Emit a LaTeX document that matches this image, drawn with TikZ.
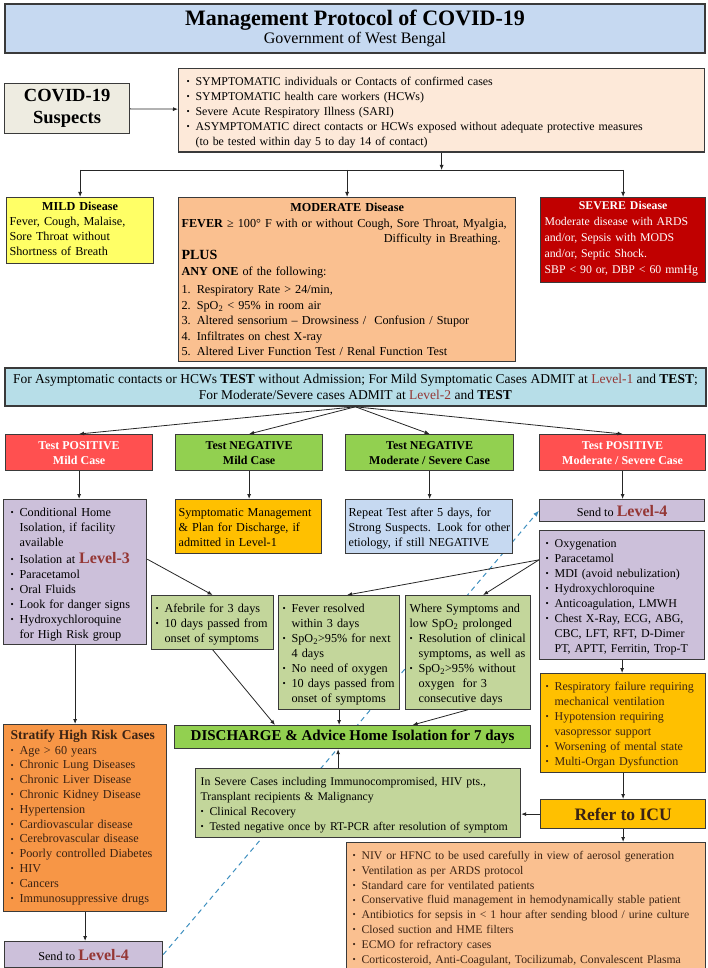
\documentclass[tikz,border=0pt]{standalone}
\usepackage{fontspec}
\setmainfont{Liberation Serif}
\usetikzlibrary{arrows.meta,positioning,calc,backgrounds}
\setlength{\parindent}{0pt}
\definecolor{wbTitle}{HTML}{C6D9F1}
\definecolor{wbSand}{HTML}{EEECE1}
\definecolor{wbPeach}{HTML}{FDE9D9}
\definecolor{wbYellow}{HTML}{FFFF66}
\definecolor{wbApricot}{HTML}{FAC090}
\definecolor{wbCrimson}{HTML}{C00000}
\definecolor{wbCyan}{HTML}{B7DEE8}
\definecolor{wbRed}{HTML}{FF5050}
\definecolor{wbGreen}{HTML}{92D050}
\definecolor{wbLilac}{HTML}{CCC0DA}
\definecolor{wbGold}{HTML}{FFC000}
\definecolor{wbSky}{HTML}{C6D9F1}
\definecolor{wbSage}{HTML}{C3D69B}
\definecolor{wbOrange}{HTML}{F79646}
\definecolor{wbMaroon}{HTML}{953735}
\definecolor{wbTeal}{HTML}{3E8FBF}
\definecolor{wbInk}{HTML}{3B2314}
\definecolor{wbEdge}{HTML}{3A3A3A}
\newcommand{\bitem}[1]{\par\noindent\makebox[9pt][l]{\raisebox{0.8pt}{\fontsize{9}{9}\selectfont\textbullet}}\begin{tabular}[t]{@{}l@{}}#1\end{tabular}\par\prevdepth=\dp\strutbox}
\newcommand{\plines}[1]{\par\noindent\begin{tabular}[t]{@{}l@{}}#1\end{tabular}\par\prevdepth=\dp\strutbox}
\newcommand{\levtag}[1]{{\color{wbMaroon}\fontsize{16}{15}\selectfont\bfseries #1}}
\tikzset{
  pbox/.style={
    draw=wbEdge,
    line width=1.2pt,
    anchor=north west,
    inner xsep=4pt,
    inner ysep=2pt,
    font=\fontsize{12.2}{15}\selectfont
  },
  listbox/.style={
    pbox,
    align=left
  },
  headbox/.style={
    pbox,
    align=center,
    font=\fontsize{12}{15}\selectfont\bfseries
  },
  flow/.style={
    -{Latex[length=5pt,width=4pt]},
    line width=0.8pt,
    draw=black!85
  },
  link/.style={
    -{Latex[length=6pt,width=4.5pt]},
    line width=1pt,
    draw=wbTeal,
    dash pattern=on 5pt off 4pt
  }
}

\begin{document}
\begin{tikzpicture}[x=1pt,y=-1pt]
\useasboundingbox (0,0) rectangle (708,968);

\node[headbox, line width=2pt, fill=wbTitle, minimum width=700pt, minimum height=49pt, font=\bfseries] (title) at (4,3) {{\fontsize{22}{24}\selectfont Management Protocol of COVID-19}\\[1pt]{\fontsize{16}{18}\selectfont\mdseries Government of West Bengal}};

\node[headbox, fill=wbSand, minimum width=125pt, minimum height=50pt, font=\fontsize{18.5}{22}\selectfont\bfseries] (suspects) at (4,83) {COVID-19\\Suspects};

\node[listbox, fill=wbPeach, inner xsep=8pt, text width=510pt, minimum height=80pt, font=\fontsize{11.9}{15}\selectfont] (criteria) at (178,68) {
  \bitem{SYMPTOMATIC individuals or Contacts of confirmed cases}
  \bitem{SYMPTOMATIC health care workers (HCWs)}
  \bitem{Severe Acute Respiratory Illness (SARI)}
  \bitem{ASYMPTOMATIC direct contacts or HCWs exposed without adequate protective measures\\(to be tested within day 5 to day 14 of contact)}};

\node[listbox, fill=wbYellow, inner xsep=3pt, text width=141pt, minimum height=66pt] (mild) at (6,197) {{\centering\bfseries MILD Disease\par}\plines{Fever, Cough, Malaise,\\Sore Throat without\\Shortness of Breath}};

\node[listbox, fill=wbApricot, inner xsep=3pt, text width=331pt, minimum height=164pt, font=\fontsize{12.2}{15.5}\selectfont] (moderate) at (178,197) {
  {\centering\bfseries MODERATE Disease\par}
  \textbf{FEVER} ≥ 100° F with or without Cough, Sore Throat, Myalgia,\par
  {\raggedleft Difficulty in Breathing.\hspace*{12pt}\par}
  {\fontsize{14}{17}\selectfont\bfseries PLUS\par}
  \textbf{ANY ONE} of the following:\par
  \vspace{3pt}
  1. Respiratory Rate > 24/min,\par
  2. SpO\textsubscript{2} < 95\% in room air\par
  3. Altered sensorium – Drowsiness /\ \ Confusion / Stupor\par
  4. Infiltrates on chest X-ray\par
  5. Altered Liver Function Test / Renal Function Test};

\node[listbox, fill=wbCrimson, text=white, inner xsep=4pt, text width=157pt, minimum height=85pt, font=\fontsize{11.8}{16}\selectfont] (severe) at (540,197) {{\centering\bfseries SEVERE Disease\par}\plines{Moderate disease with ARDS\\and/or, Sepsis with MODS\\and/or, Septic Shock.\\SBP < 90 or, DBP < 60 mmHg}};

\node[headbox, line width=1.8pt, fill=wbCyan, minimum width=701pt, minimum height=38pt, font=\fontsize{13.5}{16}\selectfont] (band) at (4,367) {For Asymptomatic contacts or HCWs \textbf{TEST} without Admission; For Mild Symptomatic Cases ADMIT at \textcolor{wbMaroon}{Level-1} and \textbf{TEST};\\For Moderate/Severe cases ADMIT at \textcolor{wbMaroon}{Level-2} and \textbf{TEST}};

\node[headbox, fill=wbRed, text=white, minimum width=147pt, minimum height=36pt] (posMild) at (5,434) {Test POSITIVE\\Mild Case};
\node[headbox, fill=wbGreen, minimum width=147pt, minimum height=36pt] (negMild) at (175,434) {Test NEGATIVE\\Mild Case};
\node[headbox, fill=wbGreen, minimum width=168pt, minimum height=36pt] (negMod) at (345,434) {Test NEGATIVE\\Moderate / Severe Case};
\node[headbox, fill=wbRed, text=white, minimum width=166pt, minimum height=36pt] (posMod) at (539,434) {Test POSITIVE\\Moderate / Severe Case};

\node[listbox, fill=wbLilac, inner xsep=7pt, text width=129pt, minimum height=144pt] (isoMild) at (3,499) {
  \bitem{Conditional Home\\Isolation, if facility\\available}
  \bitem{Isolation at \levtag{Level-3}}
  \bitem{Paracetamol}
  \bitem{Oral Fluids}
  \bitem{Look for danger signs}
  \bitem{Hydroxychloroquine\\for High Risk group}};

\node[listbox, fill=wbGold, inner xsep=3pt, text width=140pt, minimum height=50pt] (sympMgmt) at (175,499) {\plines{Symptomatic Management\\\& Plan for Discharge, if\\admitted in Level-1}};

\node[listbox, fill=wbSky, inner xsep=3pt, text width=161pt, minimum height=51pt] (repeat) at (345,499) {\plines{Repeat Test after 5 days, for\\Strong Suspects. Look for other\\etiology, if still NEGATIVE}};

\node[headbox, fill=wbLilac, minimum width=165pt, minimum height=22pt, inner ysep=0pt, font=\fontsize{12.2}{15}\selectfont] (sendTop) at (539,499) {Send to \levtag{Level-4}};

\node[listbox, fill=wbLilac, inner xsep=6pt, text width=153pt, minimum height=125pt, font=\fontsize{12}{15}\selectfont] (treatMod) at (539,530) {
  \bitem{Oxygenation}
  \bitem{Paracetamol}
  \bitem{MDI (avoid nebulization)}
  \bitem{Hydroxychloroquine}
  \bitem{Anticoagulation, LMWH}
  \bitem{Chest X-Ray, ECG, ABG,\\CBC, LFT, RFT, D-Dimer\\PT, APTT, Ferritin, Trop-T}};

\node[listbox, fill=wbSage, inner xsep=4pt, text width=114pt, minimum height=49pt] (afeb) at (151,595) {\bitem{Afebrile for 3 days}\bitem{10 days passed from\\onset of symptoms}};

\node[listbox, fill=wbSage, inner xsep=4pt, text width=113pt, minimum height=109pt] (fever) at (278,595) {
  \bitem{Fever resolved\\within 3 days}
  \bitem{SpO\textsubscript{2}>95\% for next\\4 days}
  \bitem{No need of oxygen}
  \bitem{10 days passed from\\onset of symptoms}};

\node[listbox, fill=wbSage, inner xsep=4pt, text width=117pt, minimum height=109pt] (where) at (405,595) {
  \plines{Where Symptoms and\\low SpO\textsubscript{2} prolonged}
  \bitem{Resolution of clinical\\symptoms, as well as}
  \bitem{SpO\textsubscript{2}>95\% without\\oxygen\ \ for 3\\consecutive days}};

\node[listbox, fill=wbGold, text=wbInk, inner xsep=5pt, text width=155pt, minimum height=94pt, font=\fontsize{12}{15}\selectfont] (icuSigns) at (540,673) {
  \bitem{Respiratory failure requiring\\mechanical ventilation}
  \bitem{Hypotension requiring\\vasopressor support}
  \bitem{Worsening of mental state}
  \bitem{Multi-Organ Dysfunction}};

\node[headbox, fill=wbGreen, minimum width=356pt, minimum height=23pt, inner ysep=0pt, font=\fontsize{15}{17}\selectfont\bfseries] (discharge) at (174,725) {DISCHARGE \& Advice Home Isolation for 7 days};

\node[listbox, fill=wbSage, inner xsep=5pt, text width=315pt, minimum height=65pt, font=\fontsize{11.8}{15}\selectfont] (sevRecov) at (195,768) {
  \plines{In Severe Cases including Immunocompromised, HIV pts.,\\Transplant recipients \& Malignancy}
  \bitem{Clinical Recovery}
  \bitem{Tested negative once by RT-PCR after resolution of symptom}};

\node[headbox, fill=wbGold, text=wbInk, minimum width=165pt, minimum height=29pt, inner ysep=0pt, font=\fontsize{17.5}{20}\selectfont\bfseries] (icu) at (540,799) {Refer to ICU};

\node[listbox, fill=wbApricot, text=wbInk, inner xsep=6pt, text width=347pt, minimum height=124pt, font=\fontsize{11.7}{14.8}\selectfont] (icuCare) at (346,842) {
  \bitem{NIV or HFNC to be used carefully in view of aerosol generation}
  \bitem{Ventilation as per ARDS protocol}
  \bitem{Standard care for ventilated patients}
  \bitem{Conservative fluid management in hemodynamically stable patient}
  \bitem{Antibiotics for sepsis in < 1 hour after sending blood / urine culture}
  \bitem{Closed suction and HME filters}
  \bitem{ECMO for refractory cases}
  \bitem{Corticosteroid, Anti-Coagulant, Tocilizumab, Convalescent Plasma}};

\node[listbox, fill=wbOrange, text=wbInk, inner xsep=7pt, text width=149pt, minimum height=187pt, font=\fontsize{12.2}{14.8}\selectfont] (stratify) at (3,724) {
  {\fontsize{13.5}{16}\selectfont\bfseries Stratify High Risk Cases\par}
  \bitem{Age > 60 years}
  \bitem{Chronic Lung Diseases}
  \bitem{Chronic Liver Disease}
  \bitem{Chronic Kidney Disease}
  \bitem{Hypertension}
  \bitem{Cardiovascular disease}
  \bitem{Cerebrovascular disease}
  \bitem{Poorly controlled Diabetes}
  \bitem{HIV}
  \bitem{Cancers}
  \bitem{Immunosuppressive drugs}};

\node[headbox, fill=wbLilac, minimum width=158pt, minimum height=26pt, inner ysep=0pt, font=\fontsize{12.2}{15}\selectfont] (sendBot) at (4,941) {Send to \levtag{Level-4}};

\begin{scope}[on background layer]
\draw[link] (sendBot.east) -- (sendTop.west);
\end{scope}

\coordinate (fork) at (441,170);
\draw[flow] (suspects) -- (criteria);
\draw[flow] (criteria.south) -- (criteria.south |- fork);
\draw[line width=0.8pt, draw=black!85] (mild.north |- fork) -- (severe.north |- fork);
\foreach \n in {mild,moderate,severe}
  \draw[flow] (\n.north |- fork) -- (\n.north);

\foreach \n in {posMild,negMild,negMod,posMod}
  \draw[flow] (band.south) -- (\n.north);

\draw[flow] (posMild.south) -- (posMild.south |- isoMild.north);
\draw[flow] (negMild.south) -- (negMild.south |- sympMgmt.north);
\draw[flow] (negMod.south) -- (negMod.south |- repeat.north);
\draw[flow] (posMod.south) -- (posMod.south |- sendTop.north);

\draw[flow] ([yshift=13pt]isoMild.east) -- (afeb.north);
\draw[flow] ([yshift=35pt]treatMod.west) -- ([xshift=8pt]fever.north);
\draw[flow] ([yshift=35pt]treatMod.west) -- ([xshift=15pt]where.north);
\draw[flow] (treatMod.south) -- (treatMod.south |- icuSigns.north);

\draw[flow] (afeb.south) -- ($(discharge.north west)+(101,0)$);
\draw[flow] (fever.south) -- (fever.south |- discharge.north);
\draw[flow] (where.south) -- ([xshift=60pt]discharge.north);
\draw[flow] ([xshift=-20pt]sevRecov.north) -- ([xshift=-20pt]sevRecov.north |- discharge.south);

\draw[flow] (icuSigns.south) -- (icuSigns.south |- icu.north);
\draw[flow] (icu.west) -- (icu.west -| sevRecov.east);
\draw[flow] (icu.south) -- (icu.south |- icuCare.north);

\draw[flow] (isoMild.south) -- (isoMild.south |- stratify.north);
\draw[flow] (stratify.south) -- (stratify.south |- sendBot.north);

\end{tikzpicture}
\end{document}
